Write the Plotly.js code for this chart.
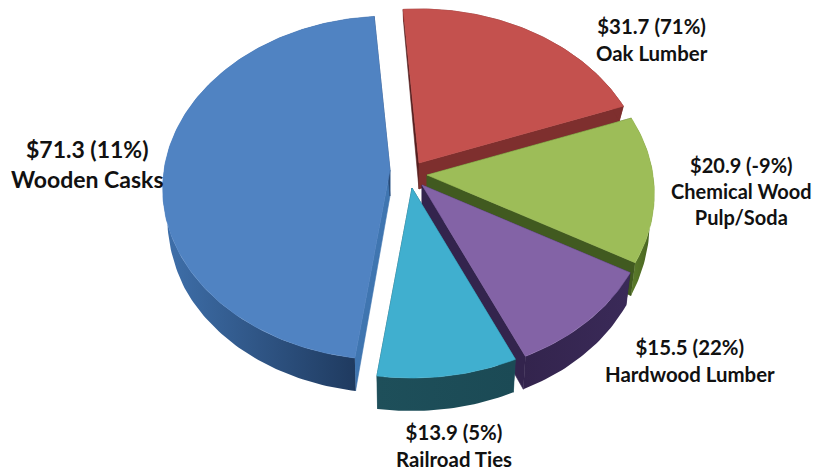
<!DOCTYPE html>
<html>
<head>
<meta charset="utf-8">
<script src="https://cdn.plot.ly/plotly-3.0.1.min.js"></script>
<style>html,body{margin:0;padding:0;background:#fff}#chart{width:813px;height:470px}</style>
</head>
<body>
<div id="chart"></div>
<script>
// Data, in drawing order around the pie (clockwise from the top)
const categories = ['Oak Lumber', 'Chemical Wood<br>Pulp/Soda', 'Hardwood Lumber', 'Railroad Ties', 'Wooden Casks'];
const salesValues = [31.7, 20.9, 15.5, 13.9, 71.3];
const changePct = [71, -9, 22, 5, 11];

// Styling: one entry per slice
const apexes = [[419, 163], [427, 175], [422, 185], [412, 188], [390, 170]];
const topColors = ['#c4514e', '#9dbd58', '#8363a6', '#40afcf', '#5083c2'];
const outerWall = [['#7e2f2e', '#7e2f2e'], ['#5f7f2c', '#44601f'], ['#33244d', '#3a2a58'], ['#1e4f5a', '#1b4a55'], ['#3f70ab', '#1c3558']];
const radialWallA = ['#551f1f', '#415a20', '#33244d', '#1e4f5a', '#3f75b0'];   // wall along the slice's start edge
const radialWallB = ['#7e2f2e', '#415a20', '#33244d', '#1e4f5a', '#2a4a75'];   // wall along the slice's end edge
const labelX = [652, 741, 690, 454, 87];
const labelY = [39, 191, 360, 445, 164];
const labelSize = [20.4, 20, 20.4, 20.4, 23];

const startAngle = -4.5, rx = 226, ryMid = 172, ryBulge = 18, widen = 0.11, taper = 0.02;
const total = salesValues.reduce((a, b) => a + b, 0);

function rim(i, deg) {
  const t = deg * Math.PI / 180, s = Math.sin(t), c = Math.cos(t);
  return [apexes[i][0] + rx * s * (1 - widen * c), apexes[i][1] - ryMid * c + ryBulge * c * c];
}
function depth(rel) {
  if (rel < 0) return Math.max(12, 26 + rel * 11 / 57);
  return 26 + 7 * Math.min(1, rel / 87);
}
function under(i, p) {
  return [p[0] - taper * (p[0] - apexes[i][0]), p[1] + depth(p[1] - apexes[i][1])];
}
function poly(pts, color2, color1) {
  const xs = pts.map(p => p[0]), ys = pts.map(p => p[1]);
  const tr = {x: xs.concat(xs[0]), y: ys.concat(ys[0]), mode: 'lines', fill: 'toself', hoverinfo: 'skip',
              showlegend: false, line: {width: 0.6, color: color1 || color2}, fillcolor: color1 || color2};
  if (color2 && color1 && color1 !== color2) {
    tr.fillgradient = {type: 'horizontal', start: Math.min(...xs), stop: Math.max(...xs),
                       colorscale: [[0, color1], [1, color2]]};
    tr.line.color = 'rgba(0,0,0,0)';
  }
  return tr;
}

const traces = [];
const annotations = [];
let cum = 0;
salesValues.forEach((v, i) => {
  const a0 = startAngle + 360 * cum / total;
  const a1 = a0 + 360 * v / total;
  cum += v;
  const arc = [];
  const n = Math.ceil(a1 - a0);
  for (let k = 0; k <= n; k++) arc.push(rim(i, a0 + (a1 - a0) * k / n));
  const apex = apexes[i];
  const first = arc[0], last = arc[arc.length - 1];
  traces.push(poly([apex, first, under(i, first), under(i, apex)], radialWallA[i]));
  traces.push(poly([apex, last, under(i, last), under(i, apex)], radialWallB[i]));
  traces.push(poly(arc.concat(arc.slice().reverse().map(p => under(i, p))), outerWall[i][1], outerWall[i][0]));
  traces.push(poly([apex].concat(arc), topColors[i]));
  annotations.push({
    x: labelX[i], y: labelY[i], xref: 'x', yref: 'y', showarrow: false, align: 'center',
    text: '<b>$' + v.toFixed(1) + ' (' + changePct[i] + '%)<br>' + categories[i] + '</b>',
    font: {family: 'Lato, sans-serif', size: labelSize[i], color: '#111'}
  });
});

Plotly.newPlot('chart', traces, {
  width: 813, height: 470, margin: {l: 0, r: 0, t: 0, b: 0},
  paper_bgcolor: '#fff', plot_bgcolor: '#fff', showlegend: false,
  xaxis: {range: [0, 813], visible: false, fixedrange: true},
  yaxis: {range: [470, 0], visible: false, fixedrange: true},
  annotations
}, {displayModeBar: false, staticPlot: true});
</script>
</body>
</html>
